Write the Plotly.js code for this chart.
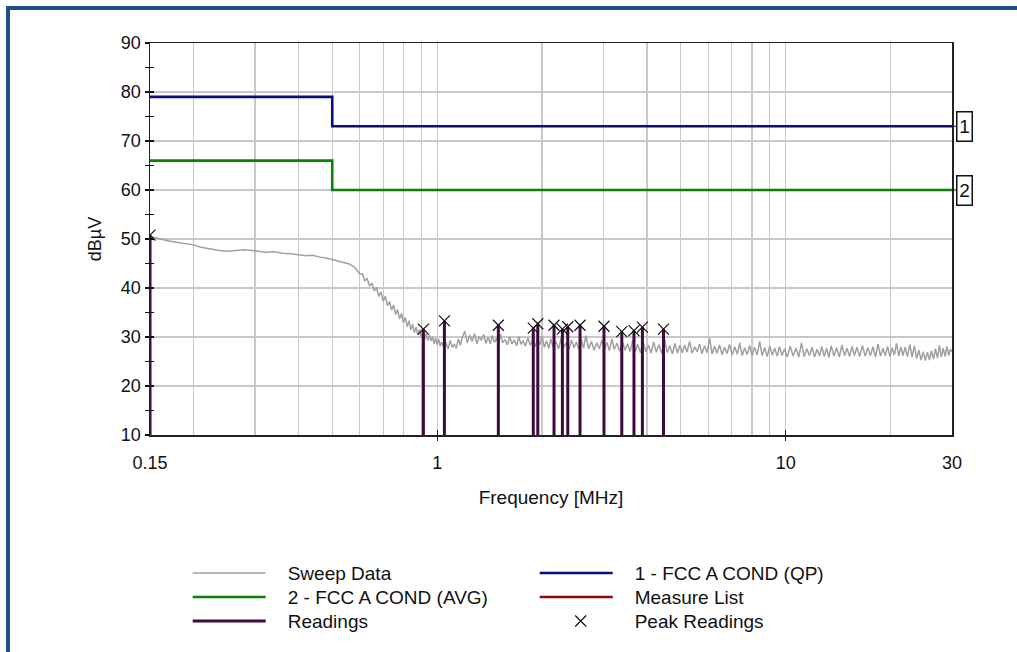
<!DOCTYPE html>
<html>
<head>
<meta charset="utf-8">
<script src="https://cdn.plot.ly/plotly-3.0.1.min.js"></script>
<style>
  html, body { margin: 0; padding: 0; background: #ffffff; }
  #chart { position: absolute; left: 0; top: 0; width: 1017px; height: 652px; }
  #frame { position: absolute; left: 6px; top: 6px; right: 0; bottom: 0;
           border-left: 4px solid #1f4e86; border-top: 4px solid #1f4e86; pointer-events: none; }
</style>
</head>
<body>
<div id="chart"></div>
<div id="frame"></div>
<script>
// ---- Sweep data (frequency MHz / level dBµV) ----
// 0.15 - 0.94 MHz
const sweepFreqLow = [
  0.15, 0.16, 0.17, 0.18, 0.19, 0.2, 0.21, 0.22, 0.235, 0.25, 0.265, 0.28, 0.3, 0.32, 0.34, 0.36, 0.38, 0.4, 0.42, 0.44, 0.46, 0.48, 0.5, 0.52, 0.54, 0.56, 0.58,
  0.59, 0.6, 0.61, 0.62, 0.63, 0.64, 0.65, 0.66, 0.67, 0.68, 0.69, 0.70, 0.71, 0.72, 0.73, 0.74, 0.75, 0.76, 0.77, 0.78, 0.79, 0.80, 0.81, 0.82, 0.83, 0.84, 0.85, 0.86, 0.87, 0.88, 0.89, 0.90, 0.91, 0.92, 0.93, 0.94
];
const sweepLevelLow = [
  50.5, 50.0, 49.6, 49.3, 49.0, 48.8, 48.3, 48.0, 47.7, 47.5, 47.6, 47.8, 47.6, 47.3, 47.4, 47.1, 47.0, 46.8, 46.6, 46.7, 46.3, 46.1, 45.8, 45.6, 45.3, 44.9, 44.2,
  43.6, 42.8, 42.9, 41.5, 41.9, 40.4, 41.0, 39.4, 40.1, 38.3, 39.2, 37.3, 38.3, 36.4, 37.2, 35.5, 36.5, 34.6, 35.6, 33.7, 34.8, 32.9, 34.0, 32.1, 33.3, 31.5, 32.6, 30.9, 32.0, 30.4, 31.6, 29.9, 31.1, 29.5, 30.7, 29.3
];
// 0.95 - 5 MHz
const sweepFreqMid = [
  0.95, 0.96, 0.97, 0.98, 0.99, 1.0, 1.01, 1.02, 1.03, 1.045,
  1.06, 1.075, 1.09, 1.105, 1.12, 1.135, 1.15, 1.165, 1.18, 1.2,
  1.22, 1.24, 1.26, 1.28, 1.3, 1.32, 1.34, 1.36, 1.38, 1.4,
  1.42, 1.44, 1.46, 1.48, 1.5, 1.52, 1.54, 1.565, 1.59, 1.615,
  1.64, 1.665, 1.69, 1.715, 1.74, 1.765, 1.79, 1.82, 1.85, 1.88,
  1.91, 1.94, 1.97, 2.0, 2.03, 2.06, 2.09, 2.12, 2.15, 2.19,
  2.23, 2.27, 2.31, 2.35, 2.39, 2.43, 2.47, 2.51, 2.55, 2.59,
  2.63, 2.67, 2.72, 2.77, 2.82, 2.87, 2.92, 2.97, 3.02, 3.07,
  3.12, 3.17, 3.22, 3.28, 3.34, 3.4, 3.46, 3.52, 3.58, 3.64,
  3.7, 3.76, 3.83, 3.9, 3.97, 4.04, 4.11, 4.18, 4.25, 4.33,
  4.41, 4.49, 4.57, 4.65, 4.73, 4.81, 4.89, 4.97
];
const sweepLevelMid = [
  30.4, 29.2, 30.0, 28.6, 29.8, 28.4, 29.6, 28.1, 29.0, 27.8,
  28.9, 27.6, 29.3, 27.9, 28.5, 27.7, 29.6, 28.3, 29.9, 31.2,
  28.8, 30.4, 29.1, 30.7, 28.6, 30.1, 29.3, 30.5, 28.7, 29.9,
  28.6, 30.3, 28.9, 29.7, 28.5, 30.6, 28.8, 29.5, 28.4, 30.0,
  28.6, 29.4, 28.2, 30.1, 28.5, 29.3, 28.1, 29.8, 28.3, 29.5,
  28.0, 29.7, 28.4, 30.2, 27.9, 29.2, 27.7, 29.6, 28.0, 29.1,
  27.6, 29.8, 27.9, 28.9, 27.5, 29.4, 27.8, 29.0, 27.4, 29.5,
  27.7, 30.3, 27.6, 29.1, 27.3, 28.8, 27.6, 29.4, 27.4, 28.9,
  27.2, 29.6, 27.5, 28.7, 27.1, 29.1, 27.3, 28.6, 27.0, 29.3,
  27.1, 28.5, 26.8, 28.9, 27.0, 28.3, 26.7, 29.0, 26.9, 28.4,
  26.6, 29.6, 26.8, 28.2, 26.5, 28.7, 26.7, 28.3
];
// 5 - 30 MHz
const sweepFreqHigh = [
  5.05, 5.13, 5.21, 5.3, 5.39, 5.48, 5.57, 5.66, 5.75, 5.85,
  5.95, 6.05, 6.15, 6.25, 6.35, 6.46, 6.57, 6.68, 6.79, 6.9,
  7.02, 7.14, 7.26, 7.38, 7.5, 7.62, 7.75, 7.88, 8.01, 8.14,
  8.28, 8.42, 8.56, 8.7, 8.85, 9.0, 9.15, 9.3, 9.45, 9.6,
  9.76, 9.92, 10.1, 10.3, 10.5, 10.7, 10.9, 11.1, 11.3, 11.5,
  11.7, 11.9, 12.1, 12.3, 12.5, 12.7, 12.9, 13.1, 13.3, 13.5,
  13.75, 14.0, 14.25, 14.5, 14.75, 15.0, 15.25, 15.5, 15.75, 16.0,
  16.3, 16.6, 16.9, 17.2, 17.5, 17.8, 18.1, 18.4, 18.7, 19.0,
  19.3, 19.6, 19.9, 20.2, 20.5, 20.8, 21.1, 21.4, 21.7, 22.0,
  22.35, 22.7, 23.05, 23.4, 23.75, 24.1, 24.45, 24.8, 25.15, 25.5,
  25.85, 26.2, 26.55, 26.9, 27.25, 27.6, 27.95, 28.3, 28.65, 29.0,
  29.35, 29.7, 30.0
];
const sweepLevelHigh = [
  26.8, 28.3, 26.9, 29.1, 26.7, 28.0, 27.0, 28.6, 26.6, 28.2,
  26.8, 29.7, 26.5, 28.1, 26.7, 28.4, 26.4, 27.9, 26.6, 28.5,
  26.3, 28.0, 26.5, 28.8, 26.2, 27.8, 26.4, 28.3, 26.1, 27.9,
  26.3, 29.1, 26.2, 27.8, 26.0, 28.2, 26.3, 27.7, 26.1, 28.0,
  26.2, 27.6, 25.9, 28.1, 26.1, 27.7, 25.9, 28.8, 26.0, 27.6,
  26.2, 27.9, 25.9, 27.5, 26.1, 28.0, 26.0, 27.7, 25.8, 28.2,
  26.1, 27.8, 25.9, 28.4, 26.2, 27.7, 26.0, 28.1, 26.2, 27.9,
  26.0, 28.3, 26.1, 27.8, 26.2, 28.0, 25.9, 28.6, 26.1, 27.7,
  26.2, 28.1, 26.0, 27.8, 26.3, 28.7, 26.1, 28.0, 26.2, 27.9,
  26.0, 28.5, 25.9, 28.2, 25.6, 27.3, 25.3, 27.0, 25.2, 26.9,
  25.3, 27.2, 25.5, 27.6, 25.7, 28.3, 25.9, 27.8, 26.0, 28.1,
  26.2, 27.5, 27.0
];

// ---- Limit lines ----
const qpFreq = [0.15, 0.5, 30];
const qpLevel = [79, 73, 73];
const avgFreq = [0.15, 0.5, 30];
const avgLevel = [66, 60, 60];

// ---- Readings ----
const readingFreq = [0.15, 0.913, 1.049, 1.498, 1.887, 1.944, 2.164, 2.287, 2.37, 2.57, 3.01, 3.386, 3.67, 3.88, 4.46];
const readingLevel = [50.8, 31.6, 33.3, 32.4, 31.8, 32.7, 32.4, 31.6, 32.1, 32.4, 32.2, 31.1, 31.3, 32.0, 31.6];

// ---- Axes ----
const yMin = 10, yMax = 90;
const xMin = 0.15, xMax = 30;
const gridFreqs = [0.15, 0.2, 0.3, 0.4, 0.5, 0.6, 0.7, 0.8, 0.9, 1, 2, 3, 4, 5, 6, 7, 8, 9, 10, 20, 30];
const labelFreqs = ['0.15', '1', '10', '30'];
const crossTicks = [1, 10];

const gridText = gridFreqs.map(f => labelFreqs.includes(String(f)) ? String(f) : '');

const sweepFreq = sweepFreqLow.concat(sweepFreqMid, sweepFreqHigh);
const sweepLevel = sweepLevelLow.concat(sweepLevelMid, sweepLevelHigh);

// readings as vertical bars from bottom of axis
const rx = [], ry = [];
readingFreq.forEach((f, i) => { rx.push(f, f, null); ry.push(yMin, readingLevel[i], null); });

const FONT = 'Liberation Sans, Arial, sans-serif';

const traces = [
  { x: sweepFreq, y: sweepLevel, name: 'Sweep Data', type: 'scatter', mode: 'lines',
    line: { color: '#a0a0a0', width: 1.5 } },
  { x: qpFreq, y: qpLevel, name: '1 - FCC A COND (QP)', type: 'scatter', mode: 'lines',
    line: { color: '#0c0c7a', width: 2.6, shape: 'hv' } },
  { x: avgFreq, y: avgLevel, name: '2 - FCC A COND (AVG)', type: 'scatter', mode: 'lines',
    line: { color: '#0a820a', width: 2.6, shape: 'hv' } },
  { x: [null], y: [null], name: 'Measure List', type: 'scatter', mode: 'lines',
    line: { color: '#8b0a0a', width: 2.6 } },
  { x: rx, y: ry, name: 'Readings', type: 'scatter', mode: 'lines',
    line: { color: '#3c0a3c', width: 3 } },
  { x: readingFreq, y: readingLevel, name: 'Peak Readings', type: 'scatter', mode: 'markers',
    marker: { symbol: 'x-thin-open', size: 11, color: '#111', line: { color: '#111', width: 1.2 } } },
  { x: [null], y: [null], xaxis: 'x2', yaxis: 'y2', showlegend: false, hoverinfo: 'skip', type: 'scatter', mode: 'lines' },
  { x: [null], y: [null], xaxis: 'x3', yaxis: 'y', showlegend: false, hoverinfo: 'skip', type: 'scatter', mode: 'lines' }
];

const xr = [Math.log10(xMin), Math.log10(xMax)];

const layout = {
  width: 1017, height: 652,
  margin: { l: 150, r: 65, t: 43, b: 217, autoexpand: false },
  paper_bgcolor: '#ffffff', plot_bgcolor: '#ffffff',
  font: { family: FONT, color: '#111' },
  showlegend: true,
  xaxis: {
    type: 'log', range: xr, tickmode: 'array', tickvals: gridFreqs, ticktext: gridText,
    ticks: '', ticklabelstandoff: 11, showgrid: true, gridcolor: '#c8c8c8', gridwidth: 1.3,
    showline: true, mirror: true, linecolor: '#222', linewidth: 1.5, zeroline: false,
    tickfont: { size: 18, family: FONT, color: '#111' },
    title: { text: 'Frequency [MHz]', font: { size: 19, family: FONT, color: '#111' }, standoff: 18 }
  },
  xaxis2: {
    type: 'log', range: xr, overlaying: 'x', anchor: 'y', side: 'bottom', tickmode: 'array', tickvals: crossTicks,
    ticks: 'outside', ticklen: 5, tickcolor: '#111', tickwidth: 1.3, showticklabels: false,
    showgrid: false, showline: false, zeroline: false
  },
  xaxis3: {
    type: 'log', range: xr, overlaying: 'x', anchor: 'y', side: 'bottom', tickmode: 'array', tickvals: crossTicks,
    ticks: 'inside', ticklen: 5, tickcolor: '#111', tickwidth: 1.3, showticklabels: false,
    showgrid: false, showline: false, zeroline: false
  },
  yaxis: {
    range: [yMin, yMax], tick0: 10, dtick: 10, ticks: 'outside', ticklen: 4, tickcolor: '#111', tickwidth: 1.3,
    minor: { dtick: 5, ticks: 'outside', ticklen: 4, tickcolor: '#111', tickwidth: 1.3, showgrid: false },
    showgrid: true, gridcolor: '#c8c8c8', gridwidth: 1.3,
    showline: true, mirror: true, linecolor: '#222', linewidth: 1.5, zeroline: false,
    tickfont: { size: 18, family: FONT, color: '#111' },
    title: { text: 'dBµV', font: { size: 18, family: FONT, color: '#111' }, standoff: 14 }
  },
  yaxis2: {
    range: [yMin, yMax], overlaying: 'y', anchor: 'x', side: 'left', tick0: 10, dtick: 10,
    ticks: 'inside', ticklen: 4, tickcolor: '#111', tickwidth: 1.3,
    minor: { dtick: 5, ticks: 'inside', ticklen: 4, tickcolor: '#111', tickwidth: 1.3, showgrid: false },
    showticklabels: false, showgrid: false, showline: false, zeroline: false
  },
  legend: {
    orientation: 'h', x: 0.047, y: -0.304, xanchor: 'left', yanchor: 'top',
    entrywidth: 242, entrywidthmode: 'pixels', itemwidth: 90,
    font: { size: 19, family: FONT, color: '#111' }, bgcolor: 'rgba(0,0,0,0)', traceorder: 'normal'
  },
  annotations: [
    { xref: 'paper', yref: 'y', x: 1, y: 73, text: '1', showarrow: true, arrowhead: 0, arrowwidth: 1, arrowcolor: '#111',
      ax: 12, ay: 0, axref: 'pixel', ayref: 'pixel', font: { size: 19, family: FONT, color: '#111' },
      bordercolor: '#111', borderwidth: 1.5, borderpad: 1, bgcolor: '#fff', width: 12, height: 26 },
    { xref: 'paper', yref: 'y', x: 1, y: 60, text: '2', showarrow: true, arrowhead: 0, arrowwidth: 1, arrowcolor: '#111',
      ax: 12, ay: 0, axref: 'pixel', ayref: 'pixel', font: { size: 19, family: FONT, color: '#111' },
      bordercolor: '#111', borderwidth: 1.5, borderpad: 1, bgcolor: '#fff', width: 12, height: 26 }
  ]
};

Plotly.newPlot('chart', traces, layout, { staticPlot: true, displayModeBar: false }).then(gd => {
  // lengthen legend line samples to match the original legend style
  gd.querySelectorAll('.legend .legendlines path').forEach(p => p.setAttribute('d', 'M5,0h73'));
  gd.querySelectorAll('.legend .legendpoints path').forEach(p => {
    const t = p.getAttribute('transform') || '';
    p.setAttribute('transform', t.replace(/translate\(([-\d.]+),/, (m, a) => 'translate(' + (parseFloat(a) - 4) + ','));
  });
  // tighten legend row spacing to the original 24px rows
  const items = Array.from(gd.querySelectorAll('.legend g.traces'));
  const parsed = items.map(g => {
    const m = /translate\(([-\d.]+)[ ,]+([-\d.]+)\)/.exec(g.getAttribute('transform') || '');
    return m ? { g, x: parseFloat(m[1]), y: parseFloat(m[2]) } : null;
  }).filter(Boolean);
  const rows = Array.from(new Set(parsed.map(p => p.y))).sort((a, b) => a - b);
  parsed.forEach(p => {
    const r = rows.indexOf(p.y);
    p.g.setAttribute('transform', 'translate(' + p.x + ',' + (rows[0] + r * 24) + ')');
  });
});
</script>
</body>
</html>
